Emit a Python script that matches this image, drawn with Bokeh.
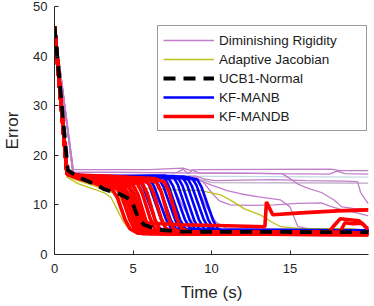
from bokeh.plotting import figure
from bokeh.models import FixedTicker, Legend, LegendItem, Range1d, ColumnDataSource
from bokeh.embed import file_html
from bokeh.resources import INLINE

# ---------------- data ----------------
X_TICKS = [0, 5, 10, 15]
Y_TICKS = [0, 10, 20, 30, 40, 50]
LABELS = ["Diminishing Rigidity", "Adaptive Jacobian", "UCB1-Normal", "KF-MANB", "KF-MANDB"]

# Diminishing Rigidity runs
DR_X = [
    [0, 1.2, 6, 8.2, 8.6, 9.2, 17.6, 18.2, 20],
    [0, 1.2, 7.8, 8.2, 8.5, 8.8, 9.2, 12, 14, 17.5, 18.0, 18.5, 20],
    [0, 1.2, 20],
    [0, 1.2, 3, 9.5, 10.0, 20],
    [0, 1.2, 9.0, 9.6, 10.2, 12, 14, 16, 18.5, 19.3, 19.5, 19.7, 20],
    [0, 1.2, 9.0, 9.5, 10.0, 10.5, 11.2, 12.5, 14, 15.5, 17, 17.5, 18.3, 19, 20],
    [0, 1.2, 14.5, 15.0, 15.5, 16.2, 17, 17.8, 18.3, 19, 20],
    [0, 1.2, 9.2, 10.0, 11.0, 11.9, 13, 14.4, 15.0, 15.5, 16.5, 20],
    [0, 1.2, 3.5, 5.5, 6.2, 7.0, 7.6, 8.2, 20],
    [0, 1.2, 4, 7.0, 7.5, 8.3, 8.9, 9.6, 20],
    [0, 1.2, 4, 8.5, 9.0, 9.7, 10.3, 11.0, 20],
]
DR_Y = [
    [46, 17.1, 17.1, 17.4, 17.0, 17.1, 17.2, 16.9, 16.9],
    [46, 16.6, 16.5, 17.2, 16.3, 17.0, 16.4, 16.4, 16.3, 16.2, 16.8, 16.3, 16.2],
    [46, 15.9, 15.6],
    [46, 15.4, 15.2, 15.0, 14.5, 14.4],
    [46, 16.0, 15.8, 15.2, 14.9, 15.0, 15.1, 14.9, 14.8, 14.7, 12.5, 11.5, 10.2],
    [46, 16.2, 15.6, 14.5, 12.5, 10.8, 10.0, 9.9, 10.0, 10.3, 10.4, 9.8, 9.0, 8.6, 7.8],
    [46, 16.6, 16.3, 15.3, 14.2, 13.3, 12.5, 11.0, 9.6, 9.3, 9.2],
    [46, 16.0, 15.0, 14.0, 12.9, 12.2, 11.6, 11.0, 9.6, 5.6, 5.0, 4.9],
    [46, 16.0, 15.5, 15.3, 13.5, 8.5, 6.0, 5.0, 4.8],
    [46, 16.1, 15.6, 15.4, 14.0, 9.0, 6.0, 5.1, 4.9],
    [46, 16.1, 15.6, 15.5, 14.2, 9.5, 6.5, 5.2, 5.0],
]

# Adaptive Jacobian runs
AJ_X = [
    [0, 0.8, 1.5, 2.5, 3.2, 3.6, 4.0, 4.4, 4.8, 5.4, 6.5, 20],
    [0, 0.8, 1.6, 2.6, 3.4, 4.0, 4.5, 5.0, 5.6, 7, 20],
    [0, 0.8, 2.0, 4.0, 6.0, 8.0, 9.3, 10.6, 11.4, 12.1, 13.1, 13.8, 14.4, 15.7, 18.8, 19.5, 20],
]
AJ_Y = [
    [46, 15.6, 14.3, 13.2, 12.4, 11.5, 9.0, 6.5, 5.0, 4.4, 4.3, 4.2],
    [46, 15.8, 14.8, 13.8, 12.8, 12.2, 9.5, 6.5, 5.0, 4.6, 4.5],
    [46, 16.0, 14.8, 14.0, 13.3, 13.0, 12.9, 12.0, 10.6, 9.2, 8.0, 6.6, 5.6, 5.2, 5.2, 5.0, 4.9],
]

# UCB1-Normal
UCB_X = [0, 0.85, 1.5, 2.5, 3.2, 4.0, 4.9, 5.3, 5.7, 6.6, 8.0, 20]
UCB_Y = [46, 17.0, 15.6, 14.3, 13.1, 12.4, 11.0, 7.6, 6.0, 5.0, 4.6, 4.5]

# KF-MANB runs
MANB_X = [
    [0, 0.8, 2.5, 4.8, 5.4, 5.65, 6.4, 6.7, 7.0, 20],
    [0, 0.8, 2.5, 5.2, 5.8, 6.05, 6.8, 7.1, 7.4, 20],
    [0, 0.8, 2.5, 5.5, 6.1, 6.35, 7.1, 7.4, 7.7, 20],
    [0, 0.8, 2.5, 5.8, 6.4, 6.65, 7.4, 7.7, 8.0, 20],
    [0, 0.8, 2.5, 6.1, 6.7, 6.95, 7.7, 8.0, 8.3, 20],
    [0, 0.8, 2.5, 6.4, 7.0, 7.25, 8.0, 8.3, 8.6, 20],
    [0, 0.8, 2.5, 6.7, 7.3, 7.55, 8.3, 8.6, 8.9, 20],
    [0, 0.8, 2.5, 7.0, 7.6, 7.85, 8.6, 8.9, 9.2, 20],
    [0, 0.8, 2.5, 7.3, 7.9, 8.15, 8.9, 9.2, 9.5, 20],
    [0, 0.8, 2.5, 7.6, 8.2, 8.45, 9.2, 9.5, 9.8, 20],
    [0, 0.8, 2.5, 7.9, 8.5, 8.75, 9.5, 9.8, 10.1, 20],
    [0, 0.8, 2.5, 8.2, 8.8, 9.05, 9.8, 10.1, 10.4, 20],
    [0, 0.8, 2.5, 8.5, 9.1, 9.35, 10.1, 10.4, 10.7, 20],
]
MANB_Y = [
    [46, 16.2, 15.6, 15.4, 15.0, 13.6, 7.0, 5.3, 4.9, 4.8],
    [46, 16.2, 15.7, 15.6, 15.2, 13.8, 7.0, 5.3, 4.9, 4.7],
    [46, 16.2, 15.6, 15.5, 15.1, 13.7, 7.1, 5.4, 5.0, 4.8],
    [46, 16.2, 15.8, 15.7, 15.3, 13.9, 7.0, 5.3, 4.9, 4.8],
    [46, 16.2, 15.6, 15.5, 15.0, 13.6, 6.9, 5.2, 4.8, 4.7],
    [46, 16.2, 15.7, 15.8, 15.4, 14.0, 7.0, 5.3, 4.9, 4.8],
    [46, 16.2, 15.6, 15.6, 15.2, 13.8, 7.1, 5.4, 5.0, 4.9],
    [46, 16.2, 15.8, 15.9, 15.5, 14.1, 7.0, 5.3, 4.9, 4.8],
    [46, 16.2, 15.6, 15.7, 15.3, 13.9, 6.9, 5.2, 4.8, 4.7],
    [46, 16.2, 15.7, 15.8, 15.4, 14.0, 7.0, 5.3, 4.9, 4.8],
    [46, 16.2, 15.6, 15.6, 15.2, 13.8, 7.1, 5.4, 5.0, 4.9],
    [46, 16.2, 15.7, 15.7, 15.3, 13.9, 7.0, 5.3, 4.9, 4.8],
    [46, 16.2, 15.6, 15.5, 15.1, 13.7, 6.9, 5.2, 4.8, 4.7],
]

# KF-MANDB runs
MANDB_X = [
    [0, 0.8, 1.5, 2.5, 3.2, 3.7, 4.0, 4.5, 4.8, 5.3, 20],
    [0, 0.8, 1.5, 2.5, 3.5, 4.0, 4.3, 4.8, 5.1, 5.6, 20],
    [0, 0.8, 1.5, 2.8, 3.7, 4.2, 4.5, 5.0, 5.3, 5.9, 20],
    [0, 0.8, 1.5, 3.0, 3.9, 4.4, 4.7, 5.2, 5.5, 6.1, 20],
    [0, 0.8, 1.5, 3.0, 4.1, 4.7, 5.0, 5.5, 5.8, 6.4, 20],
    [0, 0.8, 1.5, 3.2, 4.4, 5.0, 5.3, 5.8, 6.1, 6.7, 20],
    [0, 0.8, 1.5, 3.2, 4.7, 5.3, 5.6, 6.1, 6.4, 7.0, 20],
    [0, 0.8, 1.5, 3.4, 5.0, 5.6, 5.9, 6.4, 6.7, 7.3, 20],
    [0, 0.8, 1.5, 3.4, 5.4, 6.0, 6.3, 6.8, 7.1, 7.7, 20],
    [0, 0.8, 1.5, 3.6, 5.9, 6.5, 6.8, 7.3, 7.6, 8.2, 20],
    [0, 0.8, 1.5, 3.6, 6.4, 7.0, 7.3, 7.8, 8.1, 8.7, 20],
    [0, 0.8, 1.5, 2.6, 3.6, 4.2, 4.8, 5.2, 5.7, 8, 11, 13.4, 13.5, 13.9, 15.7, 18, 20],
    [0, 0.8, 1.5, 3.0, 4.0, 4.5, 4.8, 5.3, 5.6, 6.2, 17.5, 17.8, 18.2, 19.4, 19.8, 20],
    [0, 0.8, 1.5, 3.2, 4.2, 4.8, 5.1, 5.6, 5.9, 6.5, 18.2, 18.5, 19.0, 19.6, 20],
]
MANDB_Y = [
    [46, 16.2, 15.3, 14.4, 13.6, 13.0, 11.5, 7.0, 5.2, 4.3, 4.0],
    [46, 16.2, 15.5, 14.8, 13.8, 13.2, 11.6, 7.0, 5.1, 4.2, 4.1],
    [46, 16.3, 15.6, 15.0, 14.0, 13.4, 11.8, 7.2, 5.2, 4.4, 4.3],
    [46, 16.3, 15.7, 15.2, 14.3, 13.6, 12.0, 7.0, 5.0, 4.2, 4.0],
    [46, 16.3, 15.8, 15.3, 14.5, 13.8, 12.0, 7.2, 5.2, 4.5, 4.4],
    [46, 16.3, 15.8, 15.4, 14.7, 14.0, 12.2, 7.0, 5.0, 4.2, 4.1],
    [46, 16.3, 15.9, 15.5, 14.9, 14.2, 12.3, 7.2, 5.2, 4.4, 4.3],
    [46, 16.3, 15.9, 15.6, 15.0, 14.3, 12.4, 7.0, 5.0, 4.2, 4.0],
    [46, 16.3, 15.9, 15.6, 15.1, 14.4, 12.5, 7.2, 5.2, 4.5, 4.4],
    [46, 16.3, 15.9, 15.7, 15.2, 14.5, 12.6, 7.0, 5.1, 4.3, 4.2],
    [46, 16.3, 16.0, 15.7, 15.3, 14.6, 12.6, 7.2, 5.2, 4.4, 4.3],
    [46, 16.2, 15.5, 14.6, 13.9, 13.2, 11.8, 8.5, 6.4, 6.0, 5.8, 5.6, 10.6, 8.0, 8.4, 8.8, 9.0],
    [46, 16.2, 15.6, 15.0, 14.0, 13.2, 11.8, 7.0, 5.2, 4.6, 4.6, 5.8, 7.2, 6.8, 5.6, 5.2],
    [46, 16.2, 15.6, 15.1, 14.3, 13.5, 12.0, 7.2, 5.2, 4.5, 4.6, 6.4, 6.2, 6.3, 5.0],
]

# ---------------- style ----------------
PURPLE = "#c07ec8"
DR_SHADES = [PURPLE, PURPLE, "#c4d8e4", "#b8a6c2", PURPLE, PURPLE, PURPLE, PURPLE, PURPLE, PURPLE, PURPLE]
YELLOW = "#bfbf1a"
AXIS_C = "#262626"
FONT = "Liberation Sans"

p = figure(width=370, height=304, output_backend="svg", toolbar_location=None,
           x_range=Range1d(0, 20), y_range=Range1d(0, 50),
           min_border_left=53, min_border_right=2, min_border_top=6, min_border_bottom=46)
p.background_fill_color = "white"
p.border_fill_color = "white"
p.outline_line_color = None
p.grid.visible = False

dr_src = ColumnDataSource(dict(xs=DR_X, ys=DR_Y, color=DR_SHADES))
r_dr = p.multi_line("xs", "ys", source=dr_src, line_color="color", line_width=1.3)
r_aj = p.multi_line(AJ_X, AJ_Y, line_color=YELLOW, line_width=1.3)
r_manb = p.multi_line(MANB_X, MANB_Y, line_color="#0000ff", line_width=2.6)
r_mandb = p.multi_line(MANDB_X, MANDB_Y, line_color="#ff0000", line_width=3.6)
r_ucb = p.line(UCB_X, UCB_Y, line_color="black", line_width=3.8, line_dash="12 8")

p.xaxis.ticker = FixedTicker(ticks=X_TICKS)
p.yaxis.ticker = FixedTicker(ticks=Y_TICKS)
for ax in (p.xaxis[0], p.yaxis[0]):
    ax.major_tick_in = 4
    ax.major_tick_out = 0
    ax.minor_tick_in = 0
    ax.minor_tick_out = 0
    ax.axis_line_color = AXIS_C
    ax.major_tick_line_color = AXIS_C
    ax.major_label_text_font = FONT
    ax.major_label_text_font_size = "13px"
    ax.major_label_text_color = AXIS_C
    ax.axis_label_text_font = FONT
    ax.axis_label_text_font_size = "17px"
    ax.axis_label_text_font_style = "normal"
    ax.axis_label_text_color = AXIS_C
p.xaxis.axis_label = "Time (s)"
p.yaxis.axis_label = "Error"
p.xaxis.major_label_standoff = 9
p.yaxis.major_label_standoff = 7
p.xaxis.axis_label_standoff = 7
p.yaxis.axis_label_standoff = 8

legend = Legend(items=[
    LegendItem(label=LABELS[0], renderers=[r_dr], index=0),
    LegendItem(label=LABELS[1], renderers=[r_aj]),
    LegendItem(label=LABELS[2], renderers=[r_ucb]),
    LegendItem(label=LABELS[3], renderers=[r_manb]),
    LegendItem(label=LABELS[4], renderers=[r_mandb]),
], location=(103, 123))
legend.label_text_font = FONT
legend.label_text_font_size = "13.5px"
legend.label_text_color = "#1a1a1a"
legend.glyph_width = 51
legend.glyph_height = 18
legend.label_height = 18
legend.label_width = 142
legend.label_standoff = 5
legend.spacing = 1
legend.padding = 5
legend.margin = 0
legend.border_line_color = "#3a3a3a"
legend.border_line_width = 1
legend.background_fill_color = "white"
legend.background_fill_alpha = 1
p.add_layout(legend)

open("out.html", "w").write(file_html(p, INLINE))
